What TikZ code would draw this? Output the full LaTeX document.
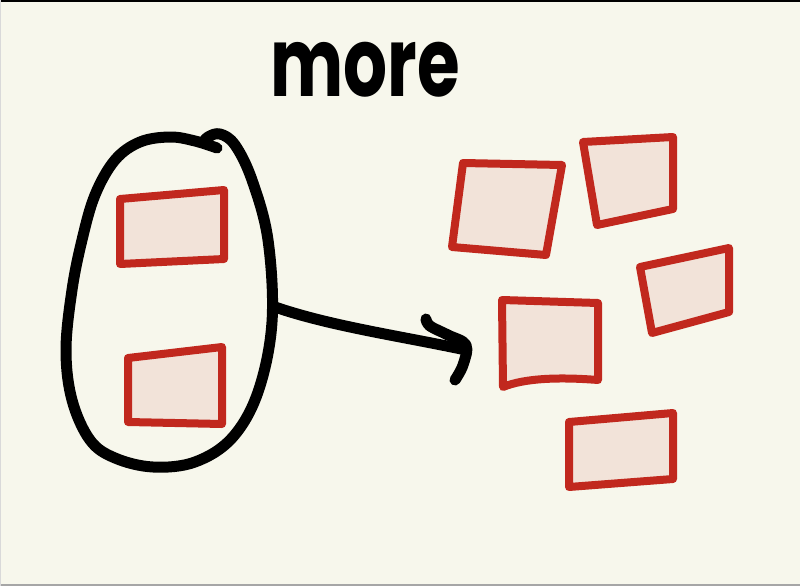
\documentclass[tikz,border=0pt]{standalone}
\usepackage{fontspec}
\newfontfamily\handfont{Poppins}
\definecolor{paper}{HTML}{F7F7EC}
\definecolor{redline}{HTML}{C1281E}
\definecolor{boxfill}{HTML}{F2E3D9}
\tikzset{
  card/.style={draw=redline, fill=boxfill, line width=8pt, line join=round, line cap=round},
  ink/.style={draw=black, line width=11pt, line cap=round, line join=round},
}
\begin{document}
\begin{tikzpicture}[x=1pt,y=-1pt]
\useasboundingbox (0,0) rectangle (800,586);
\fill[paper] (0,0) rectangle (800,586);
\fill[black] (0,0) rectangle (800,2.5);
\fill[gray!70] (0,584) rectangle (800,586);
\fill[gray!30] (0,0) rectangle (1,586);

% title
\node[font=\handfont\bfseries\fontsize{96}{96}\selectfont, xscale=0.72, inner sep=0] (title) at (365,70) {more};

% oval
\draw[ink] plot[smooth, tension=0.6] coordinates {(217,148) (195,141) (170,137) (140,142) (115,160) (95,195) (82,240) (72,290) (66,350) (72,400) (90,440) (115,458) (153,467) (195,462) (232,438) (258,392) (272,322) (268,240) (252,180) (235,145) (220,134) (208,137) (203,143)};

% left cards
\draw[card] (120,199) -- (224,190) -- (224,259) -- (120,264) -- cycle;
\draw[card] (128,358) -- (222,347) -- (222,424) -- (128,422) -- cycle;

% right cards
\draw[card] (463,163) -- (562,165) -- (546,255) -- (452,247) -- cycle;
\draw[card] (583,142) -- (673,137) -- (673,209) -- (597,225) -- cycle;
\draw[card] (640,267) -- (729,248) -- (729,312) -- (652,333) -- cycle;
\draw[card] (502,300) -- (598,303) -- (598,380) .. controls (560,377) and (525,378) .. (503,387) -- cycle;
\draw[card] (569,422) -- (673,413) -- (673,479) -- (569,487) -- cycle;

% arrow
\coordinate (from) at (275,307);
\coordinate (tip) at (466,350);
\draw[ink] (from) .. controls (330,326) and (400,336) .. (tip);
\draw[ink] plot[smooth, tension=0.6] coordinates {(426,319) (430,326) (448,335) (466,345) (463,365) (455,380)};
\end{tikzpicture}
\end{document}
